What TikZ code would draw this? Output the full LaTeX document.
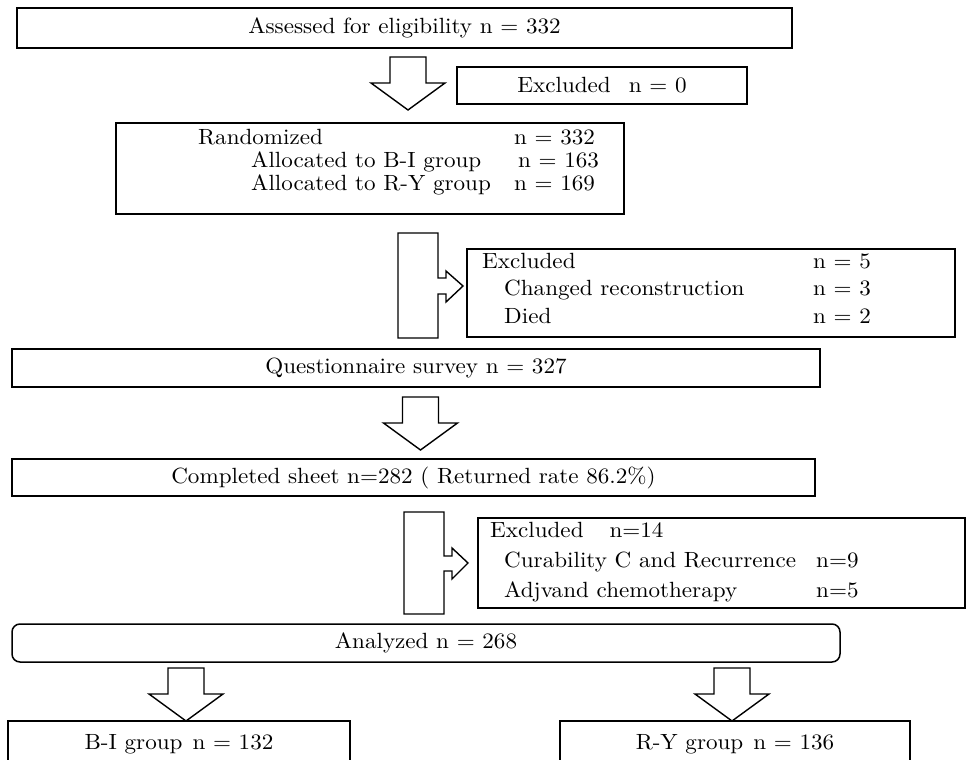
\documentclass[tikz,border=0pt]{standalone}
\usepackage{fontspec}
\setmainfont{lmroman10-regular.otf}[FakeStretch=1.05]
\usepackage{tikz}
\usetikzlibrary{positioning,calc}
\tikzset{
  box/.style={draw, line width=1.5pt, inner sep=0pt, align=center},
  roundbox/.style={box, rounded corners=8pt},
  list/.style={inner sep=0pt, anchor=base west},
  blockarr/.style={draw, line width=1.4pt, fill=white, line join=miter},
  downarr/.pic={\draw[blockarr] (-18,0) -- (18,0) -- (18,26) -- (37,26) -- (0,53) -- (-37,26) -- (-18,26) -- cycle;}
}

\begin{document}
\begin{tikzpicture}[x=1pt, y=-1pt, font=\fontsize{22}{23}\selectfont]
    \clip (0,0) rectangle (967,760);

    % boxes
    \node[box, minimum width=775pt, minimum height=40pt] (assess) at (404.5,28) {Assessed for eligibility n = 332};
    \node[box, minimum width=290pt, minimum height=37pt] (excl0) at (602,85.5) {Excluded\hspace{18pt}n = 0};
    \node[box, minimum width=508pt, minimum height=91pt] (rand) at (370,168.5) {};
    \node[box, minimum width=488pt, minimum height=88pt] (excl5) at (711,293) {};
    \node[box, minimum width=808pt, minimum height=38pt] (survey) at (416,368) {Questionnaire survey n = 327};
    \node[box, minimum width=803pt, minimum height=37pt] (sheet) at (413.5,477.5) {Completed sheet n=282 ( Returned rate 86.2\%)};
    \node[box, minimum width=487pt, minimum height=90pt] (excl14) at (721.5,563) {};
    \node[roundbox, minimum width=828pt, minimum height=38pt] (analyzed) at (426,643) {Analyzed n = 268};
    \node[box, minimum width=342pt, minimum height=48pt] (bigroup) at (179,745) {\raisebox{6pt}{B-I group\hspace{10pt}n = 132}};
    \node[box, minimum width=350pt, minimum height=48pt] (rygroup) at (735,745) {\raisebox{6pt}{R-Y group\hspace{10pt}n = 136}};

    % box contents
    \node[list] (randtxt) at (198,144) {\begin{tabular}[t]{@{}p{316pt}@{}l@{}}
      Randomized & n = 332\\
      \hspace*{53pt}Allocated to B-I group & \hspace*{4pt}n = 163\\
      \hspace*{53pt}Allocated to R-Y group & n = 169
    \end{tabular}};
    \node[list] (excl5txt) at (482,268) {\begin{tabular}[t]{@{}p{331pt}@{}l@{}}
      Excluded & n = 5\\[4.5pt]
      \hspace*{22pt}Changed reconstruction & n = 3\\[4.5pt]
      \hspace*{22pt}Died & n = 2
    \end{tabular}};
    \node[list] (excl14txt) at (490,537) {\begin{tabular}[t]{@{}p{326pt}@{}l@{}}
      Excluded\hspace{26pt}n=14 & \\[7pt]
      \hspace*{14pt}Curability C and Recurrence & n=9\\[7pt]
      \hspace*{14pt}Adjvand chemotherapy & n=5
    \end{tabular}};

    % block arrows
    \coordinate (a1) at (408,57);
    \coordinate (a3) at (420.5,397);
    \coordinate (a5) at (186,668);
    \coordinate (a6) at (732,668);
    \coordinate (bend1) at (398,233);
    \coordinate (bend2) at (404,512);
    \pic at (a1) {downarr};
    \pic at (a3) {downarr};
    \pic at (a5) {downarr};
    \pic at (a6) {downarr};
    \draw[blockarr] (bend1) -- ++(40,0) -- ++(0,45) -- ++(8,0) -- ++(0,-7) -- ++(17,15)
      -- ++(-17,16) -- ++(0,-8) -- ++(-8,0) -- ++(0,44) -- ++(-40,0) -- cycle;
    \draw[blockarr] (bend2) -- ++(40,0) -- ++(0,44) -- ++(8,0) -- ++(0,-8) -- ++(16,15)
      -- ++(-16,16) -- ++(0,-8) -- ++(-8,0) -- ++(0,43) -- ++(-40,0) -- cycle;
\end{tikzpicture}
\end{document}
